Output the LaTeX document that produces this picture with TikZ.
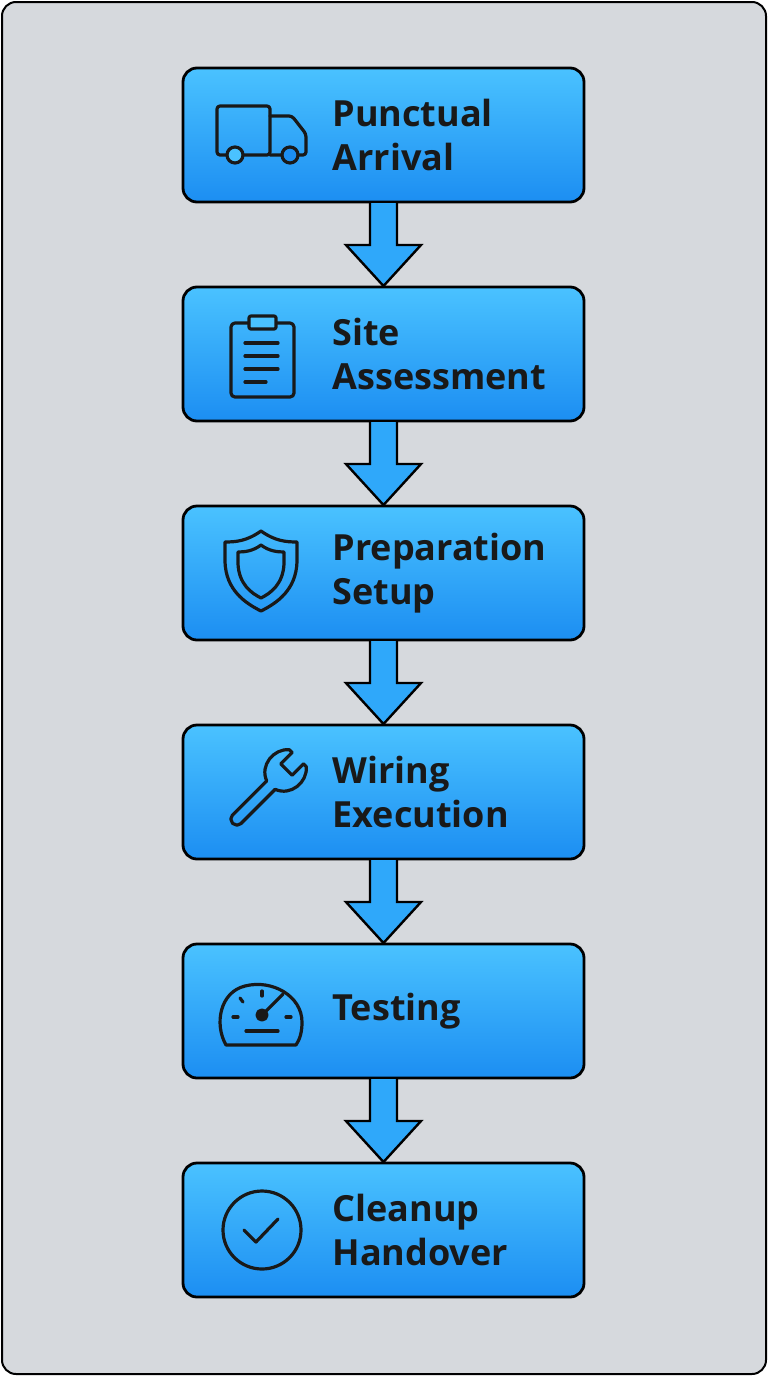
\documentclass[tikz,border=0pt]{standalone}
\usepackage{fontspec}
\setmainfont{Open Sans}
\begin{document}
\begin{tikzpicture}[x=1pt,y=-1pt,
 box/.style={draw=black,line width=2.8pt,rounded corners=14pt,top color=boxtop,bottom color=boxbot,minimum width=401pt,minimum height=134pt},
 lbl/.style={font=\bfseries\fontsize{36}{44}\selectfont,align=left,anchor=west,text=black!90},
 ic/.style={draw=black!90,line width=3.2pt,line cap=round,line join=round},
 arr/.style={draw=black,line width=2.4pt,fill=arrblue,line join=miter}]
\definecolor{boxtop}{HTML}{4AC2FF}\definecolor{boxbot}{HTML}{1C8EF2}
\definecolor{arrblue}{HTML}{2FA8FA}\definecolor{bg}{HTML}{D6D9DD}
\useasboundingbox (0,0) rectangle (768,1376);
\draw[fill=bg,line width=2pt,rounded corners=14pt] (2,2) rectangle (766,1374);
\foreach \i/\t in {1/{Punctual\\Arrival},2/{Site\\Assessment},3/{Preparation\\Setup},4/{Wiring\\Execution},5/{Testing},6/{Cleanup\\Handover}}{
 \pgfmathsetmacro{\yc}{135+219*(\i-1)}
 \node[box] (b\i) at (383.5,\yc) {};
 \node[lbl] (t\i) at (329,\yc) {\t};
}
\foreach \i in {1,...,5}{
 \pgfmathsetmacro{\ya}{203+219*(\i-1)}
 \pgfmathsetmacro{\yh}{245+219*(\i-1)}
 \pgfmathsetmacro{\yb}{286+219*(\i-1)}
 \draw[arr] (370,\ya) -- (370,\yh) -- (346,\yh) -- (383.5,\yb) -- (421,\yh) -- (397,\yh) -- (397,\ya);
}
% truck
\draw[ic,rounded corners=3pt] (217,106) rectangle (270,155);
\draw[ic,rounded corners=3pt] (270,116) -- (292,116) -- (306,134) -- (306,155) -- (270,155);
\draw[ic,fill=boxtop] (235,155) circle (8); \draw[ic,fill=boxbot] (290,155) circle (8);
% clipboard
\draw[ic,rounded corners=4pt] (231,323) rectangle (294,397);
\draw[ic,rounded corners=2pt,fill=boxtop] (249,316) rectangle (276,329);
\foreach \yy/\xe in {343/278,356/278,369/278,382/266}{\draw[ic] (245,\yy) -- (\xe,\yy);}
% shield
\draw[ic] (261,531) .. controls (247,541) and (236,542) .. (225,542) -- (225,562) .. controls (226,590) and (245,603) .. (261,611) .. controls (277,603) and (296,590) .. (297,562) -- (297,542) .. controls (286,542) and (275,541) .. (261,531) -- cycle;
\draw[ic] (261,545) .. controls (253,551) and (245,552) .. (238,552) -- (238,564) .. controls (239,584) and (251,593) .. (261,598) .. controls (271,593) and (283,584) .. (284,564) -- (284,552) .. controls (277,552) and (269,551) .. (261,545) -- cycle;
% wrench
\begin{scope}[shift={(278,778)},rotate=-45]
\draw[ic,rounded corners=5.5pt] (-6,10) -- (-6,64) -- (6,64) -- (6,10);
\draw[ic] (-6,10) .. controls (-22,4) and (-24,-18) .. (-12,-28) -- (-8,-28) -- (-8,-12) -- (8,-12) -- (8,-28) -- (12,-28) .. controls (24,-18) and (22,4) .. (6,10);
\end{scope}
% gauge
\draw[ic] (226,1045) .. controls (214,1024) and (220,992) .. (245,986) .. controls (272,979) and (302,996) .. (302,1022) .. controls (302,1032) and (300,1039) .. (296,1045) -- cycle;
\draw[ic,fill=black!90] (262,1015) circle (5);
\draw[ic] (262,1015) -- (283,994);
\draw[ic] (262,991) -- (262,996); \draw[ic] (240,998) -- (243,1002); \draw[ic] (233,1017) -- (238,1017); \draw[ic] (286,1017) -- (291,1017);
\draw[ic] (246,1031) -- (278,1031);
% check
\draw[ic] (262,1230) circle (39);
\draw[ic] (244,1230) -- (256,1242) -- (278,1219);
\end{tikzpicture}
\end{document}
